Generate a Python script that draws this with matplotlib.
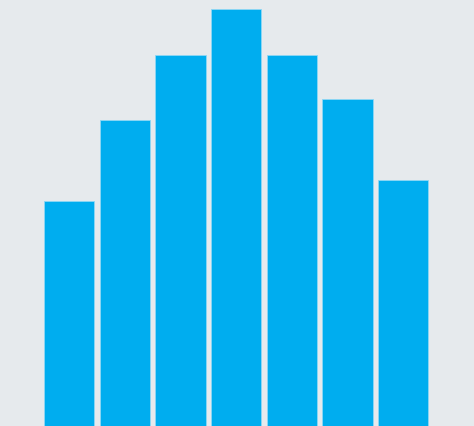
import matplotlib
matplotlib.use('Agg')
import matplotlib.pyplot as plt

# bar values (tallest = 100)
categories = ['A', 'B', 'C', 'D', 'E', 'F', 'G']
values = [54, 73.5, 89, 100, 89, 78.5, 59]

fig = plt.figure(figsize=(4.74, 4.27), dpi=100)
fig.patch.set_facecolor('#E6EAED')
ax = fig.add_axes([0, 0, 1, 1])
ax.set_facecolor('#E6EAED')

x = range(len(categories))
ax.bar(x, values, width=0.9, color='#00ADEF', edgecolor='#8fd8f5', linewidth=0.6)

ax.set_xlim(-1.24, 7.27)
ax.set_ylim(0, 102.4)
ax.axis('off')

plt.savefig('out.png', facecolor=fig.get_facecolor())
plt.close(fig)
